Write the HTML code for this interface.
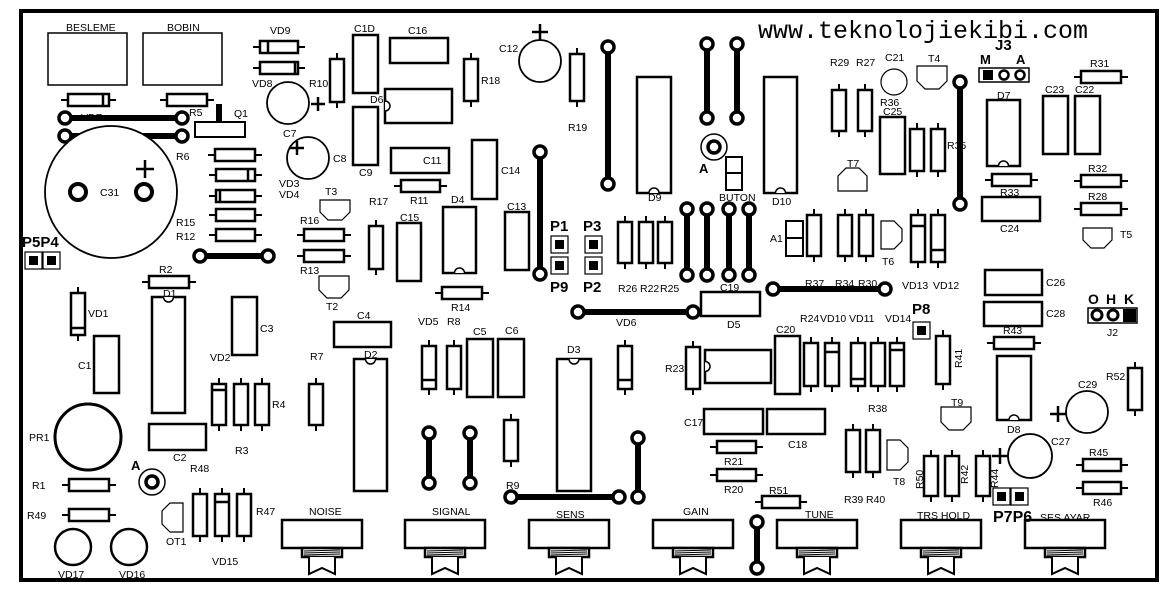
<!DOCTYPE html>
<html><head><meta charset="utf-8"><style>
html,body{margin:0;padding:0;background:#fff;}
svg{display:block;}
text{font-family:"Liberation Sans",sans-serif;font-size:10.5px;fill:#000;}
.b{font-weight:bold;font-size:15px;}
.w{font-family:"Liberation Mono",monospace;font-size:25px;}
</style></head><body>
<svg id="s" width="1176" height="592" viewBox="0 0 1176 592" xmlns="http://www.w3.org/2000/svg">
<rect x="0" y="0" width="1176" height="592" fill="#fff"/>
<rect x="21" y="11" width="1136" height="569" fill="none" stroke="#000" stroke-width="4"/>
<g id="g" fill="#fff" stroke="#000" stroke-width="2"></g>
<g>
<text class="w" x="758" y="38">www.teknolojiekibi.com</text>
<text x="66" y="31">BESLEME</text><text x="167" y="31">BOBIN</text>
<text x="270" y="34">VD9</text><text x="252" y="87">VD8</text>
<text x="309" y="87">R10</text><text x="354" y="32">C1D</text><text x="370" y="103">D6</text>
<text x="408" y="34">C16</text><text x="481" y="84">R18</text><text x="499" y="52">C12</text>
<text x="568" y="131">R19</text><text x="81" y="121">VDZ</text><text x="189" y="116">R5</text>
<text x="234" y="117">Q1</text><text x="283" y="137">C7</text><text x="333" y="162">C8</text>
<text x="359" y="176">C9</text><text x="100" y="196">C31</text><text x="176" y="160">R6</text>
<text x="176" y="226">R15</text><text x="176" y="240">R12</text>
<text x="279" y="187">VD3</text><text x="279" y="198">VD4</text>
<text x="325" y="195">T3</text><text x="300" y="224">R16</text><text x="300" y="274">R13</text>
<text x="326" y="310">T2</text><text x="369" y="205">R17</text><text x="400" y="221">C15</text>
<text x="423" y="164">C11</text><text x="501" y="174">C14</text><text x="410" y="204">R11</text>
<text x="451" y="203">D4</text><text x="507" y="210">C13</text><text x="451" y="311">R14</text>
<text class="b" x="550" y="231">P1</text><text class="b" x="550" y="292">P9</text>
<text class="b" x="583" y="231">P3</text><text class="b" x="583" y="292">P2</text>
<text x="618" y="292">R26</text><text x="640" y="292">R22</text><text x="660" y="292">R25</text>
<text x="648" y="201">D9</text><text x="699" y="173" class="b" style="font-size:13px">A</text>
<text x="719" y="201">BUTON</text><text x="772" y="205">D10</text>
<text x="720" y="291">C19</text><text x="727" y="328">D5</text>
<text x="830" y="66">R29</text><text x="856" y="66">R27</text><text x="885" y="61">C21</text>
<text x="928" y="62">T4</text><text x="880" y="106">R36</text><text x="883" y="115">C25</text>
<text x="947" y="149">R35</text><text x="847" y="167">T7</text><text x="770" y="242">A1</text>
<text x="882" y="265">T6</text><text x="805" y="287">R37</text><text x="835" y="287">R34</text>
<text x="858" y="287">R30</text><text x="902" y="289">VD13</text><text x="933" y="289">VD12</text>
<text class="b" x="995" y="50">J3</text><text class="b" x="980" y="64" style="font-size:13px">M</text>
<text class="b" x="1016" y="64" style="font-size:13px">A</text>
<text x="1090" y="67">R31</text><text x="997" y="99">D7</text><text x="1045" y="93">C23</text>
<text x="1075" y="93">C22</text><text x="1000" y="196">R33</text><text x="1000" y="232">C24</text>
<text x="1088" y="172">R32</text><text x="1088" y="200">R28</text><text x="1120" y="238">T5</text>
<text x="1046" y="286">C26</text><text x="1046" y="317">C28</text>
<text class="b" x="1088" y="304" style="font-size:14px">O</text><text class="b" x="1106" y="304" style="font-size:14px">H</text><text class="b" x="1124" y="304" style="font-size:14px">K</text>
<text x="1107" y="336">J2</text><text class="b" x="912" y="314">P8</text><text x="885" y="322">VD14</text>
<text x="1003" y="334">R43</text><text x="1007" y="433">D8</text>
<text x="1078" y="388">C29</text><text x="1106" y="380">R52</text><text x="1051" y="445">C27</text>
<text x="951" y="406">T9</text><text x="868" y="412">R38</text><text x="893" y="485">T8</text>
<text x="844" y="503">R39</text><text x="866" y="503">R40</text>
<text x="1089" y="456">R45</text><text x="1093" y="506">R46</text>
<text class="b" x="993" y="522" style="font-size:16px">P7P6</text>
<text x="917" y="519">TRS  HOLD</text><text x="1040" y="521">SES  AYAR</text>
<text transform="translate(962,368) rotate(-90)">R41</text>
<text transform="translate(923,489) rotate(-90)">R50</text>
<text transform="translate(968,484) rotate(-90)">R42</text>
<text transform="translate(998,488) rotate(-90)">R44</text>
<text x="800" y="322">R24</text><text x="820" y="322">VD10</text><text x="849" y="322">VD11</text>
<text x="776" y="333">C20</text><text x="665" y="372">R23</text>
<text x="684" y="426">C17</text><text x="788" y="448">C18</text>
<text x="724" y="465">R21</text><text x="724" y="493">R20</text><text x="769" y="494">R51</text>
<text x="418" y="325">VD5</text><text x="447" y="325">R8</text><text x="473" y="335">C5</text>
<text x="505" y="334">C6</text><text x="616" y="326">VD6</text><text x="567" y="353">D3</text>
<text x="506" y="489">R9</text><text x="22" y="247" class="b">P5P4</text>
<text x="159" y="273">R2</text><text x="163" y="297">D1</text><text x="88" y="317">VD1</text>
<text x="78" y="369">C1</text><text x="260" y="332">C3</text><text x="210" y="361">VD2</text>
<text x="272" y="408">R4</text><text x="235" y="454">R3</text><text x="310" y="360">R7</text>
<text x="357" y="319">C4</text><text x="364" y="358">D2</text><text x="173" y="461">C2</text>
<text x="190" y="472">R48</text><text x="29" y="441">PR1</text><text class="b" x="131" y="470" style="font-size:13px">A</text>
<text x="32" y="489">R1</text><text x="27" y="519">R49</text><text x="166" y="545">OT1</text>
<text x="256" y="515">R47</text><text x="212" y="565">VD15</text>
<text x="58" y="578">VD17</text><text x="119" y="578">VD16</text>
<text x="309" y="515">NOISE</text><text x="432" y="515">SIGNAL</text><text x="556" y="518">SENS</text>
<text x="683" y="515">GAIN</text><text x="805" y="518">TUNE</text>
</g>
</svg>
<script>
var g=document.getElementById('g'),NS='http://www.w3.org/2000/svg';
function el(t,a){var e=document.createElementNS(NS,t);for(var k in a)e.setAttribute(k,a[k]);g.appendChild(e);return e;}
function B(x1,y1,x2,y2,sw){el('rect',{x:x1,y:y1,width:x2-x1,height:y2-y1,'stroke-width':sw||2.5});}
function L(x1,y1,x2,y2,w){el('line',{x1:x1,y1:y1,x2:x2,y2:y2,'stroke-width':w||2});}
function RH(x1,x2,y){L(x1,y,x2,y);B(x1+7,y-6,x2-7,y+6);}
function RV(x,y1,y2){L(x,y1,x,y2);B(x-7,y1+6,x+7,y2-6);}
function DH(x1,x2,y,bx){RH(x1,x2,y);L(bx,y-6,bx,y+6,2.5);}
function DV(x,y1,y2,by){RV(x,y1,y2);L(x-8,by,x+8,by,2.5);}
function C(x,y,r,sw){el('circle',{cx:x,cy:y,r:r,'stroke-width':sw||1.8});}
function P(x,y,s){L(x-s,y,x+s,y,2.5);L(x,y-s,x,y+s,2.5);}
function J(x1,y1,x2,y2){L(x1,y1,x2,y2,6);C(x1,y1,6,3.5);C(x2,y2,6,3.5);}
function IC(x1,y1,x2,y2,side){B(x1,y1,x2,y2,2.5);var cx=(x1+x2)/2,cy=(y1+y2)/2;
 if(side=='t')el('path',{d:'M'+(cx-5)+' '+y1+' a5 5 0 0 0 10 0','stroke-width':1.5});
 if(side=='b')el('path',{d:'M'+(cx-5)+' '+y2+' a5 5 0 0 1 10 0','stroke-width':1.5});
 if(side=='l')el('path',{d:'M'+x1+' '+(cy-5)+' a5 5 0 0 1 0 10','stroke-width':1.5});}
function T(pts){el('polygon',{points:pts,'stroke-width':1.2});}
function TD(x1,y1,x2,y2){T(x1+','+y1+' '+x2+','+y1+' '+x2+','+(y2-8)+' '+(x2-8)+','+y2+' '+(x1+8)+','+y2+' '+x1+','+(y2-8));}
function TU(x1,y1,x2,y2){T(x1+','+(y1+8)+' '+(x1+8)+','+y1+' '+(x2-8)+','+y1+' '+x2+','+(y1+8)+' '+x2+','+y2+' '+x1+','+y2);}
function TR(x1,y1,x2,y2){T(x1+','+y1+' '+(x2-8)+','+y1+' '+x2+','+(y1+8)+' '+x2+','+(y2-8)+' '+(x2-8)+','+y2+' '+x1+','+y2);}
function TL(x1,y1,x2,y2){T((x1+8)+','+y1+' '+x2+','+y1+' '+x2+','+y2+' '+(x1+8)+','+y2+' '+x1+','+(y2-8)+' '+x1+','+(y1+8));}
function POT(x){B(x,520,x+80,548,2.5);B(x+20,548,x+60,557,2.5);for(var i=0;i<3;i++)L(x+22,551+i*2,x+58,550+i*2,1);
 el('path',{d:'M'+(x+27)+' 557 V574 L'+(x+40)+' 568 L'+(x+53)+' 574 V557','stroke-width':2,fill:'#fff'});}
function PAD(x,y){B(x,y,x+17,y+17,1.2);el('rect',{x:x+5,y:y+5,width:7,height:7,fill:'#000',stroke:'#000'});}
function TP(x,y){C(x,y,13,1.5);C(x,y,6,3.5);}
// top left
B(48,33,127,85,1.5);B(143,33,222,85,1.5);
DH(61,116,100,103);RH(160,214,100);
J(65,118,182,118);J(65,136,182,136);
B(195,122,245,137,2);L(219,104,219,122,6);
C(111,192,66,1.8);el('circle',{cx:78,cy:192,r:8,'stroke-width':4});el('circle',{cx:144,cy:192,r:8,'stroke-width':4});P(145,169,9);
RH(208,262,155);DH(209,262,175,248);DH(209,262,196,220);RH(209,262,215);RH(209,262,235);
DH(253,305,47,268);DH(253,305,68,295);
C(288,103,21);P(318,104,7);C(308,158,21);P(297,148,7);
RV(337,53,108);B(353,35,378,93);B(353,107,378,165);IC(385,89,452,123,'l');
B(390,38,448,63);RV(471,53,107);C(540,61,21);P(540,32,8);RV(577,48,107);
J(200,256,268,256);PAD(25,252);PAD(43,252);
RH(142,196,282);IC(152,297,185,413,'t');DV(78,287,341,328);B(94,336,119,393);B(232,297,257,355);
DV(219,378,431,390);RV(241,378,431);RV(262,378,431);RV(316,378,431);
B(334,322,391,347);IC(354,359,387,491,'t');B(149,424,206,450);
C(88,437,33,3);RH(62,116,485);RH(62,116,515);TP(152,482);
TL(162,503,183,532);RV(200,488,542);DV(222,488,542,502);RV(244,488,542);
C(73,547,18,2.5);C(129,547,18,2.5);
// middle
TD(320,200,350,220);RH(297,351,235);RH(297,351,256);TD(319,276,349,298);RV(376,220,275);
B(391,148,449,173);B(472,140,497,199);RH(394,447,186);B(397,223,421,281);IC(443,207,476,273,'b');
B(505,212,529,270);RH(435,489,293);J(540,152,540,274);
PAD(551,236);PAD(551,257);PAD(585,236);PAD(585,257);
J(608,47,608,184);IC(637,77,671,193,'b');J(707,44,707,118);J(737,44,737,118);
TP(714,147);B(726,157,742,190,2);L(726,173,742,173,2);IC(764,77,797,193,'b');
RV(625,216,269);RV(646,216,269);RV(665,216,269);
J(687,209,687,275);J(707,209,707,275);J(729,209,729,275);J(749,209,749,275);
B(701,292,760,316);J(578,312,693,312);
DV(429,340,395,380);RV(454,340,395);B(467,339,493,397);B(498,339,524,397);
DV(625,340,395,380);IC(557,359,591,491,'t');RV(511,414,467);J(511,497,619,497);
J(429,433,429,483);J(470,433,470,483);J(638,438,638,497);
RV(693,341,395);IC(705,350,771,383,'l');B(775,336,800,394);
RV(811,337,392);DV(832,337,392,352);DV(858,337,392,379);RV(878,337,392);DV(897,337,392,350);
B(704,409,763,434);B(767,409,825,434);RH(710,763,447);RH(710,763,475);RH(755,807,502);
J(757,522,757,568);RV(853,424,478);RV(873,424,478);TR(887,440,908,470);
// right
RV(839,84,137);RV(865,84,137);C(894,82,13,1.2);TD(917,66,947,89);
B(880,117,905,174);RV(917,123,177);RV(938,123,177);
J(960,82,960,204);
TU(838,168,867,191);B(786,221,803,256,2);L(786,238,803,238,2);RV(814,209,262);RV(845,209,262);RV(866,209,262);
TR(881,221,902,249);DV(918,209,268,226);DV(938,209,268,250);J(773,289,885,289);
B(979,68,1029,82,1.5);el('rect',{x:984,y:71,width:8,height:8,fill:'#000'});C(1004,75,4.5,2.5);C(1020,75,4.5,2.5);
RH(1074,1128,77);IC(987,100,1020,166,'b');B(1043,96,1068,154);B(1075,96,1100,154);
RH(985,1038,180);B(982,197,1040,221);RH(1074,1128,181);RH(1074,1128,209);TD(1083,228,1112,248);
B(985,270,1042,295);B(984,302,1042,326);
B(1088,308,1137,323,1.5);C(1097,315,5,3);C(1113,315,5,3);el('rect',{x:1124,y:310,width:11,height:11,fill:'#000'});
PAD(913,322);RV(943,330,390);RH(987,1041,343);IC(997,356,1031,420,'b');
C(1087,412,21);P(1058,414,8);RV(1135,362,416);TD(941,407,971,430);
C(1030,456,22);P(1000,456,8);RH(1076,1128,465);RH(1076,1128,488);
RV(931,450,502);RV(952,450,502);RV(983,450,502);PAD(993,488);PAD(1011,488);
[282,405,529,653,777,901,1025].forEach(POT);
</script>
</body></html>
